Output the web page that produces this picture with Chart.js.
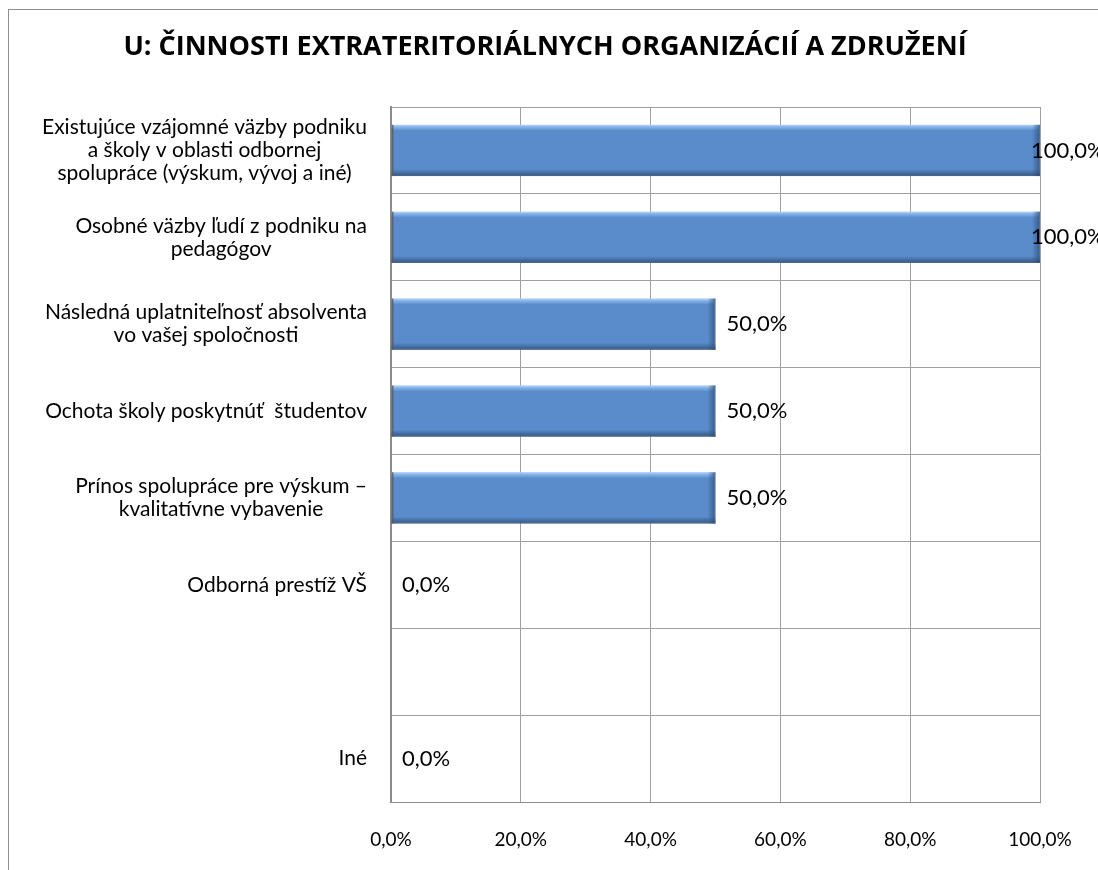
<!DOCTYPE html>
<html>
<head>
<meta charset="utf-8">
<title>U: Činnosti extrateritoriálnych organizácií a združení</title>
<script src="https://cdn.jsdelivr.net/npm/chart.js@4.4.0/dist/chart.umd.min.js"></script>
<style>
  html, body { margin: 0; padding: 0; background: #fff; }
  #wrap { position: relative; width: 1098px; height: 870px; overflow: hidden; }
  #frame { position: absolute; left: 8px; top: 9px; width: 1200px; height: 1000px;
           border-left: 1px solid #8e8e8e; border-top: 1px solid #8e8e8e; }
  canvas { position: absolute; left: 0; top: 0; }
</style>
</head>
<body>
<div id="wrap">
  <div id="frame"></div>
  <canvas id="chart" width="1098" height="870"></canvas>
</div>
<script>
const chartTitle = 'U: ČINNOSTI EXTRATERITORIÁLNYCH ORGANIZÁCIÍ A ZDRUŽENÍ';
const categories = [
    ['Existujúce vzájomné väzby podniku', 'a školy v oblasti odbornej', 'spolupráce (výskum, vývoj a iné)'],
    ['Osobné väzby ľudí z podniku na', 'pedagógov'],
    ['Následná uplatniteľnosť absolventa', 'vo vašej spoločnosti'],
    ['Ochota školy poskytnúť  študentov'],
    ['Prínos spolupráce pre výskum –', 'kvalitatívne vybavenie'],
    ['Odborná prestíž VŠ'],
    [''],
    ['Iné']
];
const values = [100, 100, 50, 50, 50, 0, null, 0];
const xTicks = [0, 20, 40, 60, 80, 100];

const FONT = 'Lato, "Open Sans", sans-serif';
const fmt = v => v.toFixed(1).replace('.', ',') + '%';

// category labels: block right-aligned to the axis, lines centered inside the block
const categoryLabels = {
    id: 'categoryLabels',
    afterDraw(chart) {
        const {ctx, chartArea} = chart;
        const y = chart.scales.y;
        ctx.save();
        ctx.font = '21px ' + FONT;
        ctx.fillStyle = '#000';
        ctx.textAlign = 'center';
        ctx.textBaseline = 'middle';
        const right = chartArea.left - 24;
        categories.forEach((lines, i) => {
            const w = Math.max(...lines.map(l => ctx.measureText(l).width));
            const cx = right - w / 2;
            const yc = y.getPixelForTick(i);
            lines.forEach((line, j) => {
                ctx.fillText(line, cx, yc + (j - (lines.length - 1) / 2) * 23);
            });
        });
        ctx.restore();
    }
};

// light top edge, dark bottom and end, like the excel bevel
const barBevel = {
    id: 'barBevel',
    afterDatasetsDraw(chart) {
        const {ctx} = chart;
        ctx.save();
        chart.getDatasetMeta(0).data.forEach(bar => {
            const {x, y, base, height} = bar.getProps(['x', 'y', 'base', 'height'], true);
            const left = Math.min(x, base), right = Math.max(x, base);
            if (right - left < 2) return;
            const top = y - height / 2, bottom = y + height / 2;
            let g = ctx.createLinearGradient(0, top, 0, top + 6);
            g.addColorStop(0, 'rgba(165,205,250,0.95)');
            g.addColorStop(1, 'rgba(165,205,250,0)');
            ctx.fillStyle = g;
            ctx.fillRect(left, top, right - left, 6);
            g = ctx.createLinearGradient(0, bottom - 7, 0, bottom);
            g.addColorStop(0, 'rgba(45,75,115,0)');
            g.addColorStop(1, 'rgba(45,75,115,0.85)');
            ctx.fillStyle = g;
            ctx.fillRect(left, bottom - 7, right - left, 7);
            g = ctx.createLinearGradient(right - 8, 0, right, 0);
            g.addColorStop(0, 'rgba(45,75,115,0)');
            g.addColorStop(1, 'rgba(45,75,115,0.75)');
            ctx.fillStyle = g;
            ctx.fillRect(right - 8, top, 8, height);
            ctx.fillStyle = 'rgba(90,90,90,0.8)';
            ctx.fillRect(left, top, 2, height);
        });
        ctx.restore();
    }
};

const valueLabels = {
    id: 'valueLabels',
    afterDatasetsDraw(chart) {
        const {ctx} = chart;
        ctx.save();
        ctx.font = '22px ' + FONT;
        ctx.fillStyle = '#000';
        ctx.textAlign = 'left';
        ctx.textBaseline = 'middle';
        chart.getDatasetMeta(0).data.forEach((bar, i) => {
            if (values[i] === null) return;
            const x = Math.min(bar.x + 11, chart.width - 67);
            ctx.fillText(fmt(values[i]), x, bar.y);
        });
        ctx.restore();
    }
};

const ctx = document.getElementById('chart').getContext('2d');
new Chart(ctx, {
    type: 'bar',
    data: {
        labels: categories,
        datasets: [{
            data: values,
            backgroundColor: '#5a8ccc',
            borderColor: '#a9c5e8',
            borderWidth: c => values[c.dataIndex] ? 1 : 0,
            borderSkipped: 'start',
            barPercentage: 0.59,
            categoryPercentage: 1
        }]
    },
    options: {
        indexAxis: 'y',
        responsive: false,
        animation: false,
        layout: {padding: {left: 50, right: 58, top: 0, bottom: 0}},
        plugins: {
            legend: {display: false},
            tooltip: {enabled: false},
            title: {
                display: true,
                text: chartTitle,
                color: '#000',
                font: {family: '"Open Sans", Lato, sans-serif', size: 27, weight: 'bold'},
                padding: {top: 31, bottom: 43.6}
            }
        },
        scales: {
            x: {
                min: 0,
                max: 100,
                afterBuildTicks: scale => { scale.ticks = xTicks.map(v => ({value: v})); },
                afterFit: scale => { scale.height = 68; },
                grid: {color: '#a0a0a0', drawTicks: false},
                border: {color: '#8c8c8c', width: 1},
                ticks: {
                    padding: 26,
                    color: '#000',
                    font: {family: FONT, size: 19},
                    callback: v => fmt(v)
                }
            },
            y: {
                afterFit: scale => { scale.width = 341; },
                grid: {color: '#a0a0a0', drawTicks: false, offset: true},
                border: {color: '#8c8c8c', width: 2},
                ticks: {display: false}
            }
        }
    },
    plugins: [barBevel, valueLabels, categoryLabels]
});
</script>
</body>
</html>
